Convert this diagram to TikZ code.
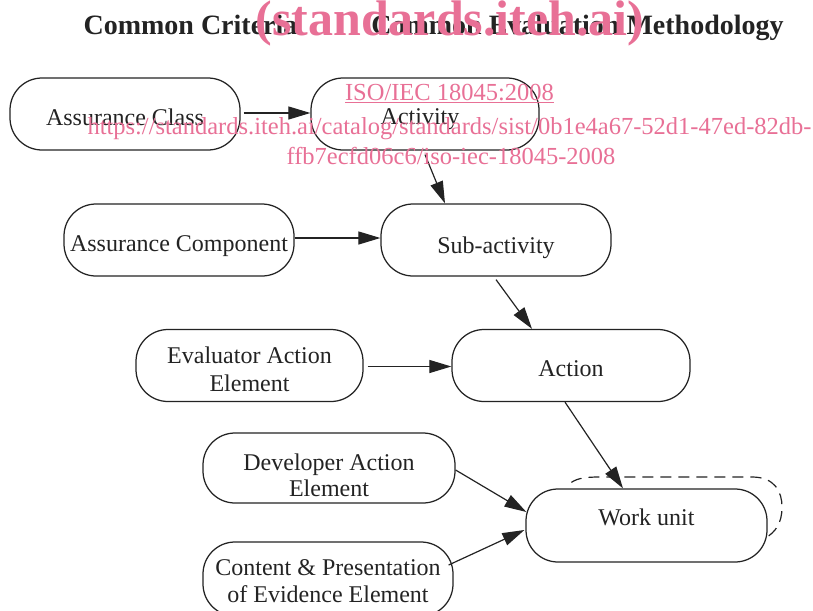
\documentclass[tikz,border=0pt]{standalone}
\usepackage{fontspec}
\setmainfont{Liberation Serif}
\usetikzlibrary{arrows.meta,calc}
\definecolor{wmpink}{RGB}{232,112,150}
\definecolor{ink}{RGB}{35,35,35}
% one line of box text, first baseline raised by #1 above the box centre
\newcommand{\oneline}[2]{\raisebox{#1}[0pt][0pt]{#2}}
% two centred lines, first baseline raised by #1, line distance #2
\newcommand{\twolines}[4]{\raisebox{#1}[0pt][0pt]{\vtop{\baselineskip=#2\halign{\hfil##\hfil\cr #3\cr #4\cr}}}}
\begin{document}
\begin{tikzpicture}[x=1pt,y=-1pt,
  box/.style={draw=ink, text=ink, line width=1.25pt, rounded corners=32pt,
    font=\fontsize{24}{27}\selectfont, inner sep=0pt},
  conn/.style={draw=ink, line width=1.2pt, -{Triangle[length=22pt,width=13pt]}},
  head/.style={font=\fontsize{28}{30}\selectfont\bfseries, anchor=base, inner sep=0pt, text=ink},
  wm/.style={text=wmpink, anchor=base, inner sep=0pt}]
\useasboundingbox (0,0) rectangle (813,610);

% headers
\node[head] (hcc) at (190.5,35) {Common Criteria};
\node[head] (hcem) at (577.5,35) {Common Evaluation Methodology};

% boxes
\node[box, minimum width=230pt, minimum height=72pt] (ac) at (125,114) {\oneline{-11pt}{Assurance Class}};
\node[box, minimum width=228pt, minimum height=72pt] (act) at (425,114) {\oneline{-10pt}{\kern-10pt Activity}};
\node[box, minimum width=230pt, minimum height=72pt] (acomp) at (179,240) {\oneline{-11pt}{Assurance Component}};
\node[box, minimum width=230pt, minimum height=72pt] (sub) at (496,240) {\oneline{-13pt}{Sub-activity}};
\node[box, minimum width=227pt, minimum height=72pt] (eae) at (249.5,365.5) {\twolines{2.5pt}{28pt}{Evaluator Action}{Element}};
\node[box, minimum width=238pt, minimum height=72pt] (action) at (571,365.5) {\oneline{-10.5pt}{Action}};
\node[box, minimum width=252pt, minimum height=70pt] (dae) at (329,468) {\twolines{-2pt}{26pt}{Developer Action}{Element}};
\node[box, minimum width=250pt, minimum height=74pt] (cpe) at (328,579) {\twolines{4pt}{27pt}{Content \& Presentation}{of Evidence Element}};
\node[box, minimum width=241pt, minimum height=73pt] (wu) at (646.5,525.5) {\oneline{0.5pt}{Work unit}};

% connectors
\draw[conn] ($(ac.east)+(3,-1)$) -- ($(act.west)+(0,-1)$);
\draw[conn] ($(act.south)+(0,4)$) -- ($(sub.north)+(-51,0)$);
\draw[conn] ($(acomp.east)+(0,-2)$) -- ($(sub.west)+(0,-2)$);
\draw[conn] ($(sub.south)+(0,3)$) -- ($(action.north)+(-39,0)$);
\draw[conn] ($(eae.east)+(4,1)$) -- ($(action.west)+(0,1)$);
\draw[conn] ($(action.south)+(-6,0)$) -- ($(wu.north)+(-23.5,0)$);
\draw[conn] ($(dae.east)+(0,2)$) -- ($(wu.west)+(1,-13.5)$);
\draw[conn] ($(cpe.east)+(-5,-14)$) -- ($(wu.west)+(-1,4.5)$);

% dashed self loop on work unit
\draw[draw=ink, line width=1.2pt, dash pattern=on 11pt off 7pt]
  ($(wu.north west)+(46,-6)$) .. controls (578,478) and (586,477) .. (600,477)
  -- (752,477) .. controls (775,477) and (782,492) .. (782,507)
  .. controls (782,524) and (775,532) .. ($(wu.east)+(-2,12.5)$);

% watermark
\node[wm, font=\fontsize{50}{52}\selectfont\bfseries] (wm1) at (450,36) {(standards.iteh.ai)};
\node[wm, font=\fontsize{24.5}{26}\selectfont] (wm2) at (449.5,100) {\underline{ISO/IEC 18045:2008}};
\node[wm, font=\fontsize{24.5}{26}\selectfont] (wm3) at (449.5,134) {https://standards.iteh.ai/catalog/standards/sist/0b1e4a67-52d1-47ed-82db-};
\node[wm, font=\fontsize{24.5}{26}\selectfont] (wm4) at (451,164) {ffb7ecfd06c6/iso-iec-18045-2008};
\end{tikzpicture}
\end{document}
